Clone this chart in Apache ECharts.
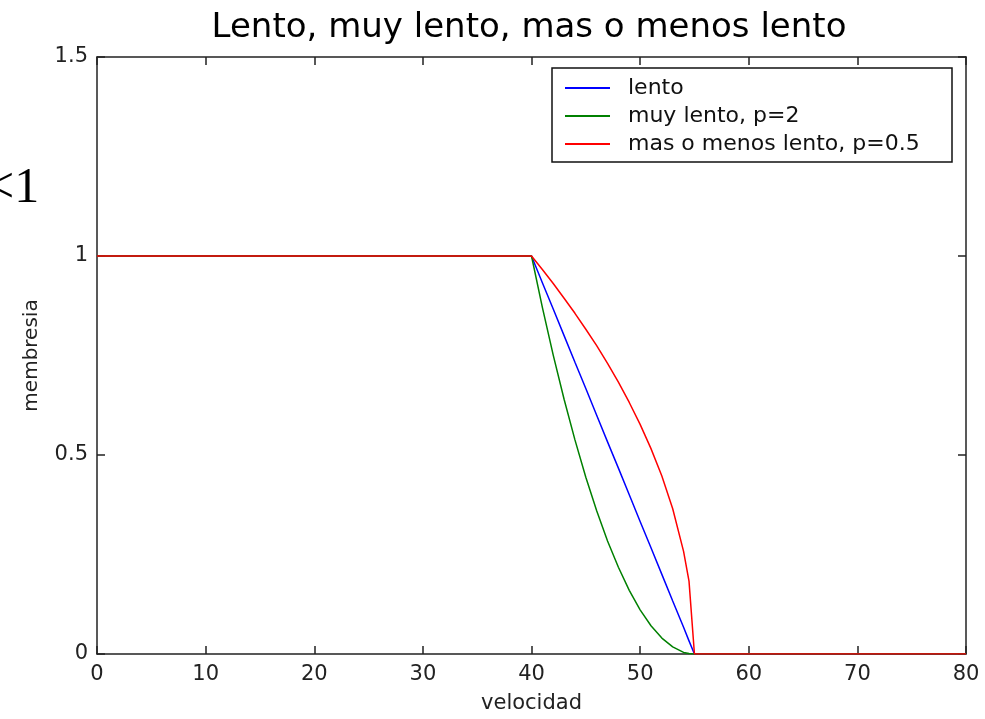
<!DOCTYPE html>
<html>
<head>
<meta charset="utf-8">
<script src="https://cdn.jsdelivr.net/npm/echarts@6/dist/echarts.min.js"></script>
<style>
html,body{margin:0;padding:0;background:#fff;}
#chart{width:985px;height:719px;}
</style>
</head>
<body>
<div id="chart"></div>
<script>
// Data
const velocidad = [0, 40, 41, 42, 43, 44, 45, 46, 47, 48, 49, 50, 51, 52, 53, 54, 54.5, 55, 80];
const lento     = [1, 1, 0.933, 0.867, 0.800, 0.733, 0.667, 0.600, 0.533, 0.467, 0.400, 0.333, 0.267, 0.200, 0.133, 0.067, 0.033, 0, 0];
const muyLento  = [1, 1, 0.871, 0.751, 0.640, 0.538, 0.444, 0.360, 0.284, 0.218, 0.160, 0.111, 0.071, 0.040, 0.018, 0.004, 0.001, 0, 0];
const masOMenos = [1, 1, 0.966, 0.931, 0.894, 0.856, 0.816, 0.775, 0.730, 0.683, 0.632, 0.577, 0.516, 0.447, 0.365, 0.258, 0.183, 0, 0];
const seriesNames = ['lento', 'muy lento, p=2', 'mas o menos lento, p=0.5'];
const seriesColors = ['#0000ff', '#008000', '#ff0000'];
const xTicks = [0, 10, 20, 30, 40, 50, 60, 70, 80];
const yTicks = [0, 0.5, 1, 1.5];

const FONT = 'DejaVu Sans';
const pairs = ys => velocidad.map((x, i) => [x, ys[i]]);
const allY = [lento, muyLento, masOMenos];

const axisLine = { show: true, onZero: false, lineStyle: { color: '#222', width: 1.5 } };
const axisTick = { show: true, inside: true, length: 8, lineStyle: { color: '#222', width: 1.5 } };

const chart = echarts.init(document.getElementById('chart'));
chart.setOption({
  backgroundColor: '#fff',
  animation: false,
  title: {
    text: 'Lento, muy lento, mas o menos lento',
    left: 529, top: 11, padding: 0, textAlign: 'center',
    textStyle: { fontFamily: FONT, fontSize: 34, fontWeight: 'normal', color: '#000' }
  },
  grid: { left: 97, right: 19, top: 57, bottom: 59, containLabel: false },
  legend: {
    left: 565, top: 77, orient: 'vertical', z: 20,
    icon: 'rect', itemWidth: 45, itemHeight: 2, itemGap: 6,
    padding: 0,
    textStyle: { fontFamily: FONT, fontSize: 22, color: '#111', lineHeight: 22, padding: [0, 0, 0, 13] },
    data: seriesNames
  },
  xAxis: [
    {
      type: 'value', min: 0, max: 80, interval: 10, position: 'bottom',
      name: 'velocidad', nameLocation: 'middle', nameGap: 39,
      nameTextStyle: { fontFamily: FONT, fontSize: 21, color: '#222' },
      axisLine, axisTick, splitLine: { show: false },
      axisLabel: { fontFamily: FONT, fontSize: 21, color: '#222', margin: 10,
        formatter: v => xTicks.includes(v) ? String(v) : '' }
    },
    {
      type: 'value', min: 0, max: 80, interval: 10, position: 'top',
      axisLine, axisTick, axisLabel: { show: false }, splitLine: { show: false }
    }
  ],
  yAxis: [
    {
      type: 'value', min: 0, max: 1.5, interval: 0.5, position: 'left',
      name: 'membresia', nameLocation: 'middle', nameGap: 55,
      nameTextStyle: { fontFamily: FONT, fontSize: 20, color: '#222' },
      axisLine, axisTick, splitLine: { show: false },
      axisLabel: { fontFamily: FONT, fontSize: 21, color: '#222', margin: 9,
        formatter: v => yTicks.includes(v) ? String(v) : '' }
    },
    {
      type: 'value', min: 0, max: 1.5, interval: 0.5, position: 'right',
      axisLine, axisTick, axisLabel: { show: false }, splitLine: { show: false }
    }
  ],
  graphic: [
    {
      type: 'rect', z: 0,
      shape: { x: 552, y: 68, width: 400, height: 94 },
      style: { fill: '#fff', stroke: '#111', lineWidth: 1.5 }
    },
    {
      type: 'text', z: 0, x: -14, y: 164,
      style: { text: '<1', font: '50px "Liberation Serif"', fill: '#000' }
    }
  ],
  series: seriesNames.map((n, i) => ({
    name: n, type: 'line', data: pairs(allY[i]), symbol: 'none',
    lineStyle: { color: seriesColors[i], width: 1.5 }, itemStyle: { color: seriesColors[i] },
    z: 3 + i
  }))
});
</script>
</body>
</html>
